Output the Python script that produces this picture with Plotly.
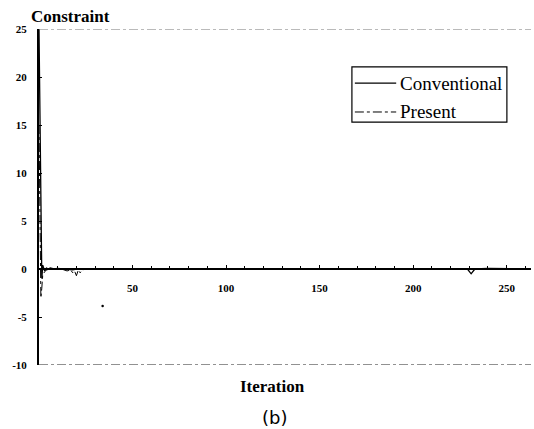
import plotly.graph_objects as go

# Conventional series
conv_x = [0, 0.5, 1, 1.5, 2, 3, 4, 5, 6, 8, 10, 12, 15, 18, 20, 22, 25, 30, 40, 50, 60, 80, 100, 120, 150, 180, 200, 220, 229, 231, 233, 240, 250, 263]
conv_y = [25, 14, 4, -1.0, 0.4, -0.2, 0.1, 0.0, 0.1, 0.0, 0.05, 0.0, 0.0, -0.1, 0.0, 0.0, 0.0, 0.05, 0.0, 0.0, 0.05, 0.0, 0.0, 0.05, 0.0, 0.0, 0.05, 0.0, 0.0, -0.5, 0.0, 0.05, 0.0, 0.0]

# Present series
pres_x = [0, 0.5, 1, 1.5, 2, 3, 4, 6, 8, 12, 15, 17, 18, 19, 20, 21, 22, 23, 25, 30, 50, 100, 150, 200, 263]
pres_y = [15, 6, -3.0, -2.0, -0.6, -0.3, -0.1, 0.0, 0.0, 0.0, -0.2, -0.1, -0.4, -0.2, -0.7, -0.1, -0.4, -0.1, 0.0, 0.0, 0.0, 0.0, 0.0, 0.0, 0.0]

# isolated point
dot_x = [34]
dot_y = [-3.85]

x_ticks = [50, 100, 150, 200, 250]
y_ticks = [25, 20, 15, 10, 5, 0, -5, -10]

serif = "Liberation Serif"

fig = go.Figure()
fig.add_trace(go.Scatter(x=conv_x, y=conv_y, mode="lines", name="Conventional",
                         line=dict(color="black", width=1.3), showlegend=False))
fig.add_trace(go.Scatter(x=pres_x, y=pres_y, mode="lines", name="Present",
                         line=dict(color="black", width=1, dash="dashdot"), showlegend=False))
fig.add_trace(go.Scatter(x=dot_x, y=dot_y, mode="markers", showlegend=False,
                         marker=dict(color="black", size=2.5)))

# frame lines top/bottom (dash-dot)
fig.add_shape(type="line", xref="paper", yref="y", x0=0, x1=1, y0=25, y1=25,
              line=dict(color="#777", width=1, dash="dashdot"))
fig.add_shape(type="line", xref="paper", yref="y", x0=0, x1=1, y0=-10, y1=-10,
              line=dict(color="#222", width=1, dash="dashdot"))

# manual legend
fig.add_shape(type="rect", xref="paper", yref="paper", x0=0.636, x1=0.951, y0=0.723, y1=0.887,
              line=dict(color="black", width=1.2), fillcolor="white", layer="above")
fig.add_shape(type="line", xref="paper", yref="paper", x0=0.642, x1=0.726, y0=0.839, y1=0.839,
              line=dict(color="black", width=1.2), layer="above")
fig.add_shape(type="line", xref="paper", yref="paper", x0=0.642, x1=0.726, y0=0.753, y1=0.753,
              line=dict(color="black", width=1, dash="dashdot"), layer="above")
fig.add_annotation(text="Conventional", xref="paper", yref="paper", x=0.730, y=0.839,
                   xanchor="left", yanchor="middle", showarrow=False,
                   font=dict(family=serif, size=19))
fig.add_annotation(text="Present", xref="paper", yref="paper", x=0.730, y=0.753,
                   xanchor="left", yanchor="middle", showarrow=False,
                   font=dict(family=serif, size=19))

fig.update_layout(
    width=534, height=429,
    margin=dict(l=39, r=3, t=29, b=64),
    paper_bgcolor="white", plot_bgcolor="white",
    font=dict(family=serif, color="black"),
    showlegend=False,
    xaxis=dict(range=[0, 263], tickvals=x_ticks, ticktext=[str(v) for v in x_ticks],
               anchor="free", position=10/35, showgrid=False, zeroline=False,
               showline=True, linecolor="black", linewidth=1.5,
               ticks="inside", ticklen=3, tickcolor="black", ticklabelstandoff=9,
               minor=dict(dtick=10, ticks="inside", ticklen=2, tickcolor="black"),
               tickfont=dict(family=serif, size=11, weight="bold")),
    yaxis=dict(range=[-10, 25], tickvals=y_ticks, ticktext=[str(v) if v >= 0 else "-" + str(-v) for v in y_ticks],
               showgrid=False, zeroline=False, showline=True, linecolor="black", linewidth=2,
               ticks="inside", ticklen=3, tickcolor="black", ticklabelstandoff=8,
               tickfont=dict(family=serif, size=11, weight="bold")),
)

fig.add_annotation(text="<b>Constraint</b>", xref="paper", yref="paper", x=-0.020, y=1.036,
                   xanchor="left", yanchor="middle", showarrow=False,
                   font=dict(family=serif, size=17))
fig.add_annotation(text="<b>Iteration</b>", xref="paper", yref="paper", x=0.474, y=-0.0625,
                   xanchor="center", yanchor="middle", showarrow=False,
                   font=dict(family=serif, size=17))
fig.add_annotation(text="(b)", xref="paper", yref="paper", x=0.478, y=-0.155,
                   xanchor="center", yanchor="middle", showarrow=False,
                   font=dict(family="DejaVu Sans", size=18))

fig.write_html("out.html")
